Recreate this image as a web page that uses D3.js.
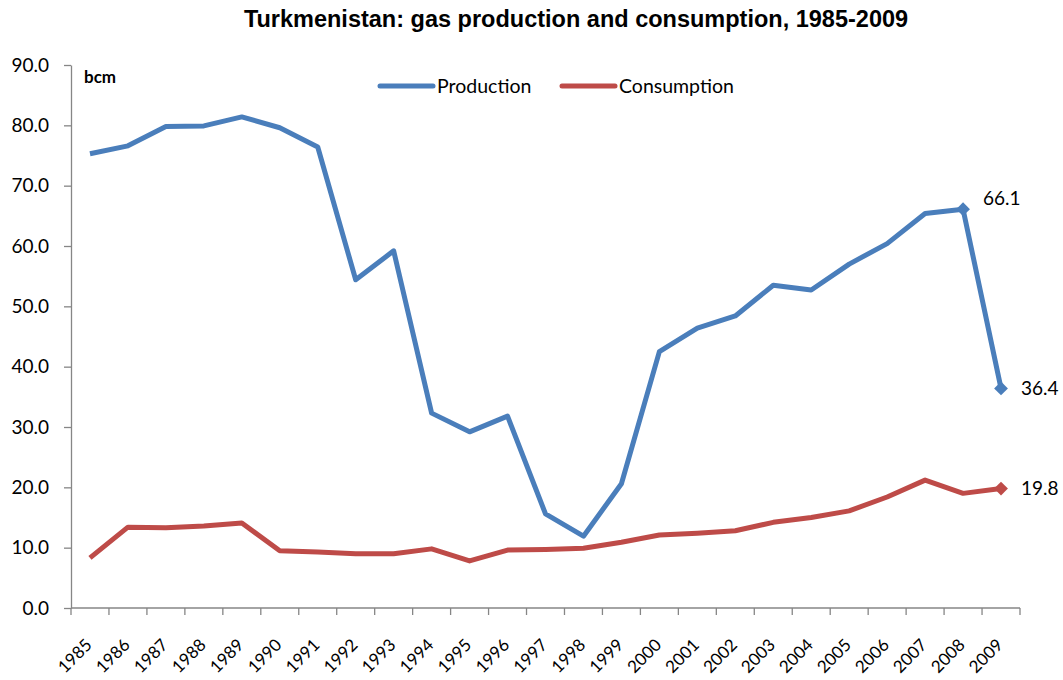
<!DOCTYPE html>
<html>
<head>
<meta charset="utf-8">
<script src="https://cdn.jsdelivr.net/npm/d3@7"></script>
<style>
  body { margin: 0; background: #fff; }
  svg text { font-family: Lato, "Open Sans", sans-serif; fill: #000; }
  svg text.title { font-family: "Liberation Sans", Arial, sans-serif; }
</style>
</head>
<body>
<div id="chart"></div>
<script>
const years = ['1985','1986','1987','1988','1989','1990','1991','1992','1993','1994','1995','1996',
  '1997','1998','1999','2000','2001','2002','2003','2004','2005','2006','2007','2008','2009'];
const production = [75.3, 76.6, 79.8, 79.9, 81.4, 79.6, 76.4, 54.4, 59.2, 32.3, 29.2, 31.8,
  15.6, 11.9, 20.6, 42.5, 46.4, 48.4, 53.5, 52.7, 57.0, 60.4, 65.4, 66.1, 36.4];
const consumption = [8.3, 13.4, 13.3, 13.6, 14.1, 9.5, 9.3, 9.0, 9.0, 9.8, 7.8, 9.6,
  9.7, 9.9, 10.9, 12.1, 12.4, 12.8, 14.2, 15.0, 16.1, 18.4, 21.2, 19.0, 19.8];
const yTicks = [0, 10, 20, 30, 40, 50, 60, 70, 80, 90];

const series = [
  { name: 'Production', values: production, color: '#4A7EBB', marked: ['2008', '2009'] },
  { name: 'Consumption', values: consumption, color: '#BE4B48', marked: ['2009'] }
];

const W = 1063, H = 680;
const margin = { top: 65, right: 43, bottom: 72, left: 71 };
const width = W - margin.left - margin.right;
const height = H - margin.top - margin.bottom;

const svg = d3.select('#chart').append('svg')
  .attr('width', W)
  .attr('height', H);

svg.append('text')
  .attr('class', 'title')
  .attr('x', 576)
  .attr('y', 27)
  .attr('text-anchor', 'middle')
  .style('font-weight', 'bold')
  .style('font-size', '23.5px')
  .text('Turkmenistan: gas production and consumption, 1985-2009');

const g = svg.append('g')
  .attr('transform', `translate(${margin.left},${margin.top})`);

const x = d3.scaleBand().domain(years).range([0, width]);
const y = d3.scaleLinear().domain([0, 90]).range([height, 0]);
const cx = d => x(d) + x.bandwidth() / 2;

// y axis
const yAxis = g.append('g')
  .call(d3.axisLeft(y).tickValues(yTicks).tickFormat(d3.format('.1f')).tickSize(7).tickSizeOuter(0));
yAxis.selectAll('text').style('font-size', '19px').attr('x', -22);
yAxis.selectAll('path, line').attr('stroke', '#868686').attr('stroke-width', 1.3);

// x axis, ticks on band boundaries
const xAxis = g.append('g').attr('transform', `translate(0,${height})`);
xAxis.append('line').attr('x1', 0).attr('x2', width).attr('stroke', '#868686').attr('stroke-width', 1.3);
xAxis.selectAll('.tk')
  .data(years.concat(['end']))
  .enter().append('line')
  .attr('x1', (d, i) => i < years.length ? x(d) : width)
  .attr('x2', (d, i) => i < years.length ? x(d) : width)
  .attr('y1', 0).attr('y2', 7)
  .attr('stroke', '#868686')
  .attr('stroke-width', 1.3);
xAxis.selectAll('.lbl')
  .data(years)
  .enter().append('text')
  .attr('text-anchor', 'end')
  .attr('transform', d => `translate(${cx(d) + 3},${38}) rotate(-45)`)
  .style('font-size', '17px')
  .text(d => d);

// lines
const line = d3.line()
  .x((d, i) => cx(years[i]))
  .y(d => y(d));

series.forEach(s => {
  g.append('path')
    .datum(s.values)
    .attr('fill', 'none')
    .attr('stroke', s.color)
    .attr('stroke-width', 5)
    .attr('stroke-linejoin', 'round')
    .attr('d', line);

  const marks = s.marked.map(yr => ({ yr, v: s.values[years.indexOf(yr)] }));
  g.selectAll(null)
    .data(marks)
    .enter().append('path')
    .attr('d', d3.symbol().type(d3.symbolSquare).size(95))
    .attr('transform', d => `translate(${cx(d.yr)},${y(d.v)}) rotate(45)`)
    .attr('fill', s.color);

  g.selectAll(null)
    .data(marks)
    .enter().append('text')
    .attr('x', d => cx(d.yr) + 20)
    .attr('y', d => y(d.v) + (d.yr === '2008' ? -11 : 0))
    .attr('dy', '0.35em')
    .style('font-size', '19px')
    .text(d => d.v.toFixed(1));
});

// bcm label
g.append('text')
  .attr('x', 13).attr('y', 18)
  .style('font-size', '17px')
  .style('font-weight', 'bold')
  .text('bcm');

// legend
const legendPos = [{ x: 380 }, { x: 562 }];
series.forEach((s, i) => {
  const lg = svg.append('g').attr('transform', `translate(${legendPos[i].x},86)`);
  lg.append('line')
    .attr('x1', 0).attr('x2', 53)
    .attr('stroke', s.color)
    .attr('stroke-width', 5)
    .attr('stroke-linecap', 'round');
  lg.append('text')
    .attr('x', 57).attr('dy', '0.35em')
    .style('font-size', '19.5px')
    .text(s.name);
});
</script>
</body>
</html>
